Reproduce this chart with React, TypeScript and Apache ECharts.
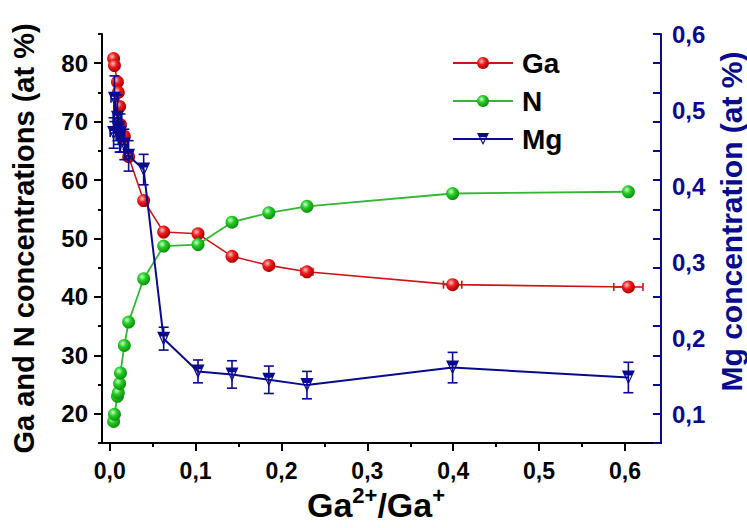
import React, { useEffect, useRef } from 'react';
import * as echarts from 'echarts';

// Ga2+/Ga+ ratio of each sample
const sampleX = [0.0045, 0.0055, 0.009, 0.010, 0.0115, 0.0125, 0.017, 0.022, 0.0395, 0.0628, 0.1028, 0.1424, 0.1853, 0.2297, 0.3993, 0.604];
// Ga concentration (at %) and its x error
const gaValues = [80.8, 79.6, 76.8, 75.0, 72.6, 69.5, 67.5, 64.0, 56.5, 51.1, 50.8, 46.95, 45.4, 44.3, 42.1, 41.7];
const gaXErr = [0, 0, 0, 0, 0, 0, 0, 0, 0, 0, 0, 0, 0, 0.007, 0.0107, 0.017];
// N concentration (at %)
const nValues = [18.7, 19.9, 23.0, 23.6, 25.2, 27.0, 31.7, 35.7, 43.1, 48.7, 48.96, 52.8, 54.4, 55.5, 57.7, 58.0];
// Mg concentration (at %) with y and x errors
const mgValues = [0.47, 0.515, 0.49, 0.475, 0.465, 0.47, 0.455, 0.44, 0.422, 0.2, 0.157, 0.153, 0.146, 0.139, 0.162, 0.149];
const mgErr = [0.02, 0.03, 0.03, 0.02, 0.02, 0.025, 0.02, 0.02, 0.02, 0.015, 0.015, 0.018, 0.018, 0.018, 0.02, 0.02];
const mgXErr = [0.004, 0.004, 0.005, 0.004, 0.004, 0.005, 0.004, 0.004, 0, 0, 0, 0, 0, 0, 0, 0];

const xLabels = [0, 0.1, 0.2, 0.3, 0.4, 0.5, 0.6];
const xMinor = [0, 0.05, 0.1, 0.15, 0.2, 0.25, 0.3, 0.35, 0.4, 0.45, 0.5, 0.55, 0.6];
const leftLabels = [20, 30, 40, 50, 60, 70, 80];
const leftMinor = [15, 20, 25, 30, 35, 40, 45, 50, 55, 60, 65, 70, 75, 80, 85];
const rightLabels = [0.1, 0.2, 0.3, 0.4, 0.5, 0.6];

const FONT = "'Liberation Sans', Arial, sans-serif";
const NAVY = '#0a0a8c';
const RED_LINE = '#cc1616';
const GREEN_LINE = '#35b535';
const TRI = 'path://M0,0 L20,0 L10,20 Z M5.4,7 L10,16 L14.6,7 Z';

const ball = (hi: string, mid: string, lo: string) =>
  new echarts.graphic.RadialGradient(0.38, 0.35, 0.65, [
    { offset: 0, color: hi },
    { offset: 0.45, color: mid },
    { offset: 1, color: lo },
  ]);

const comma = (v: number) => v.toFixed(1).replace('.', ',');

function errRender(color: string, cap: number) {
  return (params: any, api: any) => {
    const x = api.value(0);
    const y = api.value(1);
    const ey = api.value(2);
    const ex = api.value(3);
    const style = { stroke: color, lineWidth: 1.6 };
    const children: any[] = [];
    if (ey > 0) {
      const t = api.coord([x, y + ey]);
      const b = api.coord([x, y - ey]);
      children.push({ type: 'line', shape: { x1: t[0], y1: t[1], x2: b[0], y2: b[1] }, style });
      children.push({ type: 'line', shape: { x1: t[0] - cap, y1: t[1], x2: t[0] + cap, y2: t[1] }, style });
      children.push({ type: 'line', shape: { x1: b[0] - cap, y1: b[1], x2: b[0] + cap, y2: b[1] }, style });
    }
    if (ex > 0) {
      const l = api.coord([x - ex, y]);
      const r = api.coord([x + ex, y]);
      children.push({ type: 'line', shape: { x1: l[0], y1: l[1], x2: r[0], y2: r[1] }, style });
      children.push({ type: 'line', shape: { x1: l[0], y1: l[1] - 4, x2: l[0], y2: l[1] + 4 }, style });
      children.push({ type: 'line', shape: { x1: r[0], y1: r[1] - 4, x2: r[0], y2: r[1] + 4 }, style });
    }
    return { type: 'group', children };
  };
}

export default function App() {
  const ref = useRef<HTMLDivElement>(null);
  useEffect(() => {
    const chart = echarts.init(ref.current!, null, { renderer: 'svg' });
    const gaData = sampleX.map((x, i) => [x, gaValues[i]]);
    const nData = sampleX.map((x, i) => [x, nValues[i]]);
    const mgData = sampleX.map((x, i) => [x, mgValues[i]]);
    const gaErrData = sampleX.map((x, i) => [x, gaValues[i], 0, gaXErr[i]]);
    const mgErrData = sampleX.map((x, i) => [x, mgValues[i], mgErr[i], mgXErr[i]]);

    const xRange = { min: -0.009, max: 0.642 };
    const leftRange = { min: 15, max: 85 };
    const rightRange = { min: 0.063, max: 0.6 };

    chart.setOption({
      animation: false,
      backgroundColor: '#fff',
      grid: { left: 102, right: 86, top: 34, bottom: 85, outerBoundsMode: 'none', containLabel: false },
      legend: {
        orient: 'vertical',
        left: 452,
        top: 48,
        padding: 0,
        itemWidth: 60,
        itemHeight: 15,
        itemGap: 8,
        data: ['Ga', 'N', 'Mg'],
        textStyle: { fontSize: 28, fontWeight: 'bold', fontFamily: FONT, color: '#000', lineHeight: 30, padding: [0, 0, 0, 4] },
      },
      xAxis: [
        {
          type: 'value',
          ...xRange,
          position: 'bottom',
          splitLine: { show: false },
          axisLine: { onZero: false, lineStyle: { color: '#000', width: 2 } },
          axisTick: { customValues: xLabels, length: 8, lineStyle: { color: '#000', width: 2 } },
          axisLabel: { customValues: xLabels, formatter: comma, fontSize: 23, fontWeight: 'bold', fontFamily: FONT, color: '#000', margin: 16 },
        },
        {
          type: 'value',
          ...xRange,
          position: 'bottom',
          splitLine: { show: false },
          axisLine: { show: false, onZero: false },
          axisTick: { customValues: xMinor, length: 4, lineStyle: { color: '#000', width: 2 } },
          axisLabel: { show: false },
        },
      ],
      yAxis: [
        {
          type: 'value',
          ...leftRange,
          position: 'left',
          name: 'Ga and N concentrations (at %)',
          nameLocation: 'middle',
          nameRotate: 90,
          nameGap: 64,
          nameTextStyle: { fontSize: 29, fontWeight: 'bold', fontFamily: FONT, color: '#000' },
          splitLine: { show: false },
          axisLine: { onZero: false, lineStyle: { color: '#000', width: 2 } },
          axisTick: { customValues: leftLabels, length: 8, lineStyle: { color: '#000', width: 2 } },
          axisLabel: { customValues: leftLabels, fontSize: 24, fontWeight: 'bold', fontFamily: FONT, color: '#000', margin: 14 },
        },
        {
          type: 'value',
          ...rightRange,
          position: 'right',
          name: 'Mg concentration (at %)',
          nameLocation: 'middle',
          nameRotate: 90,
          nameGap: 50,
          nameTextStyle: { fontSize: 30, lineHeight: 30, fontWeight: 'bold', fontFamily: FONT, color: NAVY, padding: [0, 0, 0, 34] },
          splitLine: { show: false },
          axisLine: { onZero: false, lineStyle: { color: NAVY, width: 2 } },
          axisTick: { show: false },
          axisLabel: { customValues: rightLabels, formatter: comma, fontSize: 24, fontWeight: 'bold', fontFamily: FONT, color: NAVY, margin: 11 },
        },
        {
          type: 'value',
          ...leftRange,
          position: 'left',
          splitLine: { show: false },
          axisLine: { show: false, onZero: false },
          axisTick: { customValues: leftMinor, length: 4, lineStyle: { color: '#000', width: 2 } },
          axisLabel: { show: false },
        },
        {
          type: 'value',
          ...leftRange,
          position: 'right',
          splitLine: { show: false },
          axisLine: { show: false, onZero: false },
          axisTick: { customValues: leftMinor, inside: true, length: 8, lineStyle: { color: NAVY, width: 2 } },
          axisLabel: { show: false },
        },
      ],
      graphic: [
        {
          type: 'text',
          x: 376,
          y: 503,
          style: {
            text: '{b|Ga}{s|2+}{b|/Ga}{s|+}',
            align: 'center',
            verticalAlign: 'middle',
            rich: {
              b: { fontSize: 34, fontWeight: 'bold', fontFamily: FONT, fill: '#000', lineHeight: 38, verticalAlign: 'bottom' },
              s: { fontSize: 22, fontWeight: 'bold', fontFamily: FONT, fill: '#000', lineHeight: 24, verticalAlign: 'top' },
            },
          },
        },
      ],
      series: [
        {
          name: 'GaErr',
          type: 'custom',
          xAxisIndex: 0,
          yAxisIndex: 0,
          encode: { x: 0, y: 1 },
          data: gaErrData,
          renderItem: errRender(RED_LINE, 4),
          z: 2,
          silent: true,
        },
        {
          name: 'Ga',
          type: 'line',
          xAxisIndex: 0,
          yAxisIndex: 0,
          data: gaData,
          symbol: 'circle',
          symbolSize: 13,
          lineStyle: { color: RED_LINE, width: 1.6 },
          itemStyle: { color: ball('#ffc0c0', '#ee1c1c', '#a80000') },
          z: 3,
        },
        {
          name: 'N',
          type: 'line',
          xAxisIndex: 0,
          yAxisIndex: 0,
          data: nData,
          symbol: 'circle',
          symbolSize: 13,
          lineStyle: { color: GREEN_LINE, width: 1.8 },
          itemStyle: { color: ball('#c8ffc8', '#22cc22', '#0f900f') },
          z: 3,
        },
        {
          name: 'MgErr',
          type: 'custom',
          xAxisIndex: 0,
          yAxisIndex: 1,
          encode: { x: 0, y: 1 },
          data: mgErrData,
          renderItem: errRender(NAVY, 5),
          z: 4,
          silent: true,
        },
        {
          name: 'Mg',
          type: 'line',
          xAxisIndex: 0,
          yAxisIndex: 1,
          data: mgData,
          symbol: TRI,
          symbolSize: [13, 14],
          lineStyle: { color: NAVY, width: 2 },
          itemStyle: { color: NAVY, borderWidth: 0 },
          z: 5,
        },
      ],
    });
    return () => chart.dispose();
  }, []);
  return <div ref={ref} style={{ position: 'fixed', left: 0, top: 0, width: 747, height: 528, background: '#fff' }} />;
}
